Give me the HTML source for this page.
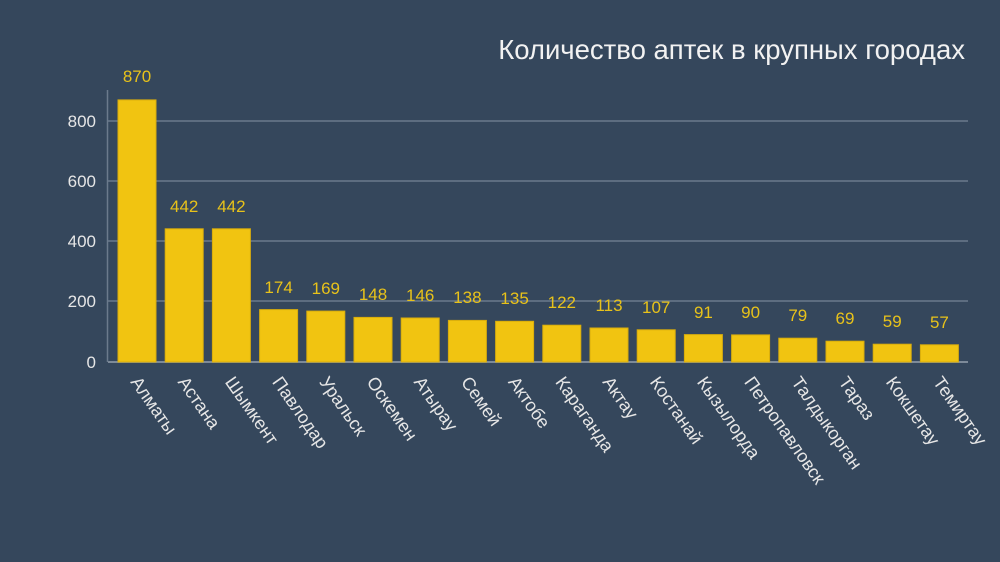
<!DOCTYPE html>
<html><head><meta charset="utf-8"><style>
html,body{margin:0;padding:0;background:#35475c;}
svg{display:block;font-family:"Liberation Sans",sans-serif;}
</style></head><body>
<svg width="1000" height="562" viewBox="0 0 1000 562">
<rect width="1000" height="562" fill="#35475c"/>
<text x="965" y="59" text-anchor="end" font-size="27.5" fill="#f2f2f2">Количество аптек в крупных городах</text>
<g stroke="#6b7a8c" stroke-width="1.5">
<line x1="108" y1="121" x2="968" y2="121"/>
<line x1="108" y1="181" x2="968" y2="181"/>
<line x1="108" y1="241" x2="968" y2="241"/>
<line x1="108" y1="301" x2="968" y2="301"/>
<line x1="108" y1="362" x2="968" y2="362" stroke="#7d8a99" stroke-width="2"/>
<line x1="107.5" y1="90" x2="107.5" y2="362"/>
</g>
<g font-size="17" fill="#e6e6e6" text-anchor="end">
<text x="96" y="127">800</text><text x="96" y="187">600</text><text x="96" y="247">400</text><text x="96" y="307">200</text><text x="96" y="368">0</text>
</g>
<g fill="#f1c411" stroke="#d9ad0c" stroke-width="1">
<rect x="118" y="99.9" width="38" height="262.1"/>
<rect x="165.2" y="228.8" width="38" height="133.2"/>
<rect x="212.4" y="228.8" width="38" height="133.2"/>
<rect x="259.6" y="309.6" width="38" height="52.4"/>
<rect x="306.8" y="311.1" width="38" height="50.9"/>
<rect x="354" y="317.4" width="38" height="44.6"/>
<rect x="401.2" y="318" width="38" height="44"/>
<rect x="448.4" y="320.4" width="38" height="41.6"/>
<rect x="495.6" y="321.3" width="38" height="40.7"/>
<rect x="542.8" y="325.2" width="38" height="36.8"/>
<rect x="590" y="328" width="38" height="34"/>
<rect x="637.2" y="329.8" width="38" height="32.2"/>
<rect x="684.4" y="334.6" width="38" height="27.4"/>
<rect x="731.6" y="334.9" width="38" height="27.1"/>
<rect x="778.8" y="338.2" width="38" height="23.8"/>
<rect x="826" y="341.2" width="38" height="20.8"/>
<rect x="873.2" y="344.2" width="38" height="17.8"/>
<rect x="920.4" y="344.8" width="38" height="17.2"/>
</g>
<g font-size="17" fill="#e8c21a" text-anchor="middle">
<text x="137" y="82">870</text>
<text x="184.2" y="212">442</text>
<text x="231.4" y="212">442</text>
<text x="278.6" y="293">174</text>
<text x="325.8" y="294">169</text>
<text x="373" y="300">148</text>
<text x="420.2" y="301">146</text>
<text x="467.4" y="303">138</text>
<text x="514.6" y="304">135</text>
<text x="561.8" y="308">122</text>
<text x="609" y="311">113</text>
<text x="656.2" y="313">107</text>
<text x="703.4" y="318">91</text>
<text x="750.6" y="318">90</text>
<text x="797.8" y="321">79</text>
<text x="845" y="324">69</text>
<text x="892.2" y="327">59</text>
<text x="939.4" y="328">57</text>
</g>
<g font-size="18" fill="#e6e6e6">
<text transform="translate(130,382) rotate(55)">Алматы</text>
<text transform="translate(177.2,382) rotate(55)">Астана</text>
<text transform="translate(224.4,382) rotate(55)">Шымкент</text>
<text transform="translate(271.6,382) rotate(55)">Павлодар</text>
<text transform="translate(318.8,382) rotate(55)">Уральск</text>
<text transform="translate(366,382) rotate(55)">Оскемен</text>
<text transform="translate(413.2,382) rotate(55)">Атырау</text>
<text transform="translate(460.4,382) rotate(55)">Семей</text>
<text transform="translate(507.6,382) rotate(55)">Актобе</text>
<text transform="translate(554.8,382) rotate(55)">Караганда</text>
<text transform="translate(602,382) rotate(55)">Актау</text>
<text transform="translate(649.2,382) rotate(55)">Костанай</text>
<text transform="translate(696.4,382) rotate(55)">Кызылорда</text>
<text transform="translate(743.6,382) rotate(55)">Петропавловск</text>
<text transform="translate(790.8,382) rotate(55)">Талдыкорган</text>
<text transform="translate(838,382) rotate(55)">Тараз</text>
<text transform="translate(885.2,382) rotate(55)">Кокшетау</text>
<text transform="translate(932.4,382) rotate(55)">Темиртау</text>
</g>
</svg>
</body></html>
